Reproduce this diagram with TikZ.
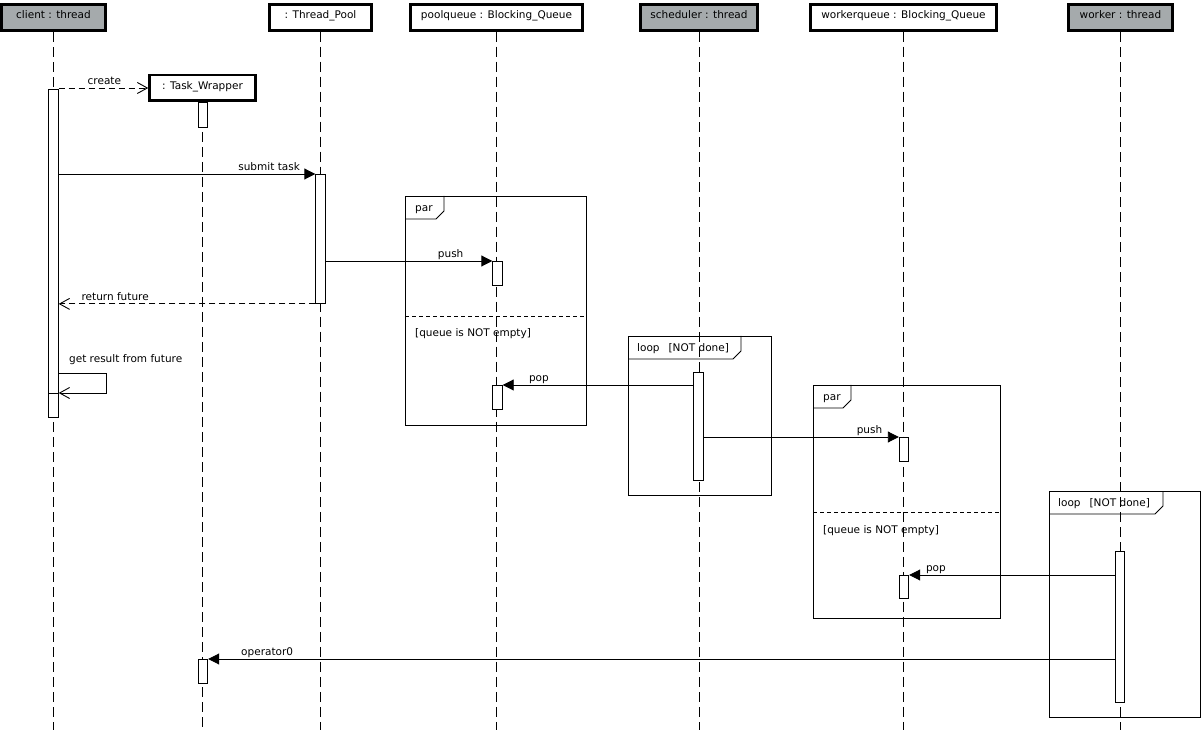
\documentclass[tikz,border=0pt]{standalone}
\usepackage{fontspec}
\setmainfont{DejaVu Sans}
\usepackage{tikz}
\usetikzlibrary{arrows.meta, positioning, calc}
\definecolor{umlgray}{RGB}{165,170,172}

\begin{document}
\begin{tikzpicture}[x=1pt,y=-1pt,
  every node/.style={font=\fontsize{10.5}{12}\selectfont},
  objbox/.style={draw,line width=2.5pt,fill=white,minimum height=26pt,inner sep=0pt,
                 text height=8.5pt,text depth=5.5pt},
  threadbox/.style={objbox,fill=umlgray,line width=3.5pt},
  lifeline/.style={dash pattern=on 10pt off 5pt,line width=0.9pt},
  act/.style={draw,fill=white,minimum width=9.5pt,inner sep=0pt,anchor=north,line width=0.9pt},
  frag/.style={draw,anchor=north west,inner sep=0pt,line width=0.9pt},
  fragtag/.style={anchor=base west,inner sep=0pt},
  call/.style={-{Triangle[length=11pt,width=11pt]},line width=0.9pt},
  selfcall/.style={-{Straight Barb[length=10pt,width=11pt,line width=0.9pt]},line width=0.9pt},
  reply/.style={selfcall,dash pattern=on 6pt off 4pt},
  lbl/.style={above,inner sep=1pt,text height=8pt,text depth=2pt}]
  \useasboundingbox (0,0) rectangle (1203,735);
  \coordinate (bottom) at (0,730);

  % combined fragments
  \node[frag,minimum width=181pt,minimum height=229pt] (par1) at (405,196) {};
  \draw[line width=0.9pt] ($(par1.north west)+(0,23)$) -- ++(31,0) -- ++(8,-8) -- ++(0,-15);
  \node[fragtag] (par1tag) at ($(par1.north west)+(10,15.5)$) {par};
  \draw[line width=0.9pt,dash pattern=on 4pt off 3pt]
    ($(par1.north west)+(0,120)$) -- ($(par1.north east)+(0,120)$);
  \node[fragtag] (par1guard) at ($(par1.north west)+(10,141)$) {[queue is NOT empty]};

  \node[frag,minimum width=143pt,minimum height=159pt] (loop1) at (628,336) {};
  \draw[line width=0.9pt] ($(loop1.north west)+(0,23)$) -- ++(105,0) -- ++(8,-8) -- ++(0,-15);
  \node[fragtag] (loop1tag) at ($(loop1.north west)+(9,15.5)$) {loop\hspace{9pt}[NOT done]};

  \node[frag,minimum width=187pt,minimum height=233pt] (par2) at (813,385) {};
  \draw[line width=0.9pt] ($(par2.north west)+(0,23)$) -- ++(30,0) -- ++(8,-8) -- ++(0,-15);
  \node[fragtag] (par2tag) at ($(par2.north west)+(10,15.5)$) {par};
  \draw[line width=0.9pt,dash pattern=on 4pt off 3pt]
    ($(par2.north west)+(0,127)$) -- ($(par2.north east)+(0,127)$);
  \node[fragtag] (par2guard) at ($(par2.north west)+(10,148)$) {[queue is NOT empty]};

  \node[frag,minimum width=151pt,minimum height=226pt] (loop2) at (1049,491) {};
  \draw[line width=0.9pt] ($(loop2.north west)+(0,23)$) -- ++(106,0) -- ++(8,-8) -- ++(0,-15);
  \node[fragtag] (loop2tag) at ($(loop2.north west)+(9,15.5)$) {loop\hspace{9pt}[NOT done]};

  % objects
  \node[threadbox,minimum width=104pt] (client) at (53.5,17.5) {client : thread};
  \node[objbox,minimum width=102pt] (pool) at (320.5,17.5) {: Thread\_Pool};
  \node[objbox,minimum width=172pt] (pq) at (496.5,17.5) {poolqueue : Blocking\_Queue};
  \node[threadbox,minimum width=117pt] (sched) at (699,17.5) {scheduler : thread};
  \node[objbox,minimum width=186pt] (wq) at (903.5,17.5) {workerqueue : Blocking\_Queue};
  \node[threadbox,minimum width=104pt] (worker) at (1120.5,17.5) {worker : thread};
  \node[objbox,minimum width=106pt,minimum height=25.5pt] (task) at (202.5,88) {: Task\_Wrapper};

  % lifelines
  \foreach \obj in {client,task,pool,pq,sched,wq,worker}
    \draw[lifeline] (\obj.south) -- (\obj.south |- bottom);

  % activations
  \node[act,minimum height=328pt] (clientact) at (53.5,89) {};
  \node[act,minimum height=24pt] (clientact2) at (53.5,393) {};
  \node[act,minimum height=25pt] (taskact) at (203,102) {};
  \node[act,minimum height=24pt] (taskact2) at (203,659) {};
  \node[act,minimum height=129pt] (poolact) at (320.5,174) {};
  \node[act,minimum height=24pt] (pqact) at (497.5,261) {};
  \node[act,minimum height=24pt] (pqact2) at (497.5,385) {};
  \node[act,minimum height=108pt] (schedact) at (698.5,372) {};
  \node[act,minimum height=24pt] (wqact) at (904,437) {};
  \node[act,minimum height=23pt] (wqact2) at (904,575) {};
  \node[act,minimum height=151pt] (workeract) at (1120,551) {};

  % messages
  \draw[reply] (clientact.east |- task.west) -- node[lbl,pos=0.51] {create} (task.west);
  \draw[call] (clientact.east |- poolact.north) -- node[lbl,pos=0.82] {submit task} (poolact.north west);
  \draw[reply] (poolact.south west) -- node[lbl,pos=0.78] {return future} (clientact.east |- poolact.south);
  \draw[selfcall] ($(clientact.north east)+(0,284)$)
    node[lbl,above right,xshift=9pt,yshift=7pt] {get result from future}
    -- ++(48,0) |- (clientact2.north east);
  \draw[call] (poolact.east |- pqact.north) -- node[lbl,pos=0.75] {push} (pqact.north west);
  \draw[call] (schedact.west |- pqact2.north) -- node[lbl,pos=0.81] {pop} (pqact2.north east);
  \draw[call] (schedact.east |- wqact.north) -- node[lbl,pos=0.85] {push} (wqact.north west);
  \draw[call] (workeract.west |- wqact2.north) -- node[lbl,pos=0.87] {pop} (wqact2.north east);
  \draw[call] (workeract.west |- taskact2.north) -- node[lbl,pos=0.935] {operator0} (taskact2.north east);
\end{tikzpicture}
\end{document}
